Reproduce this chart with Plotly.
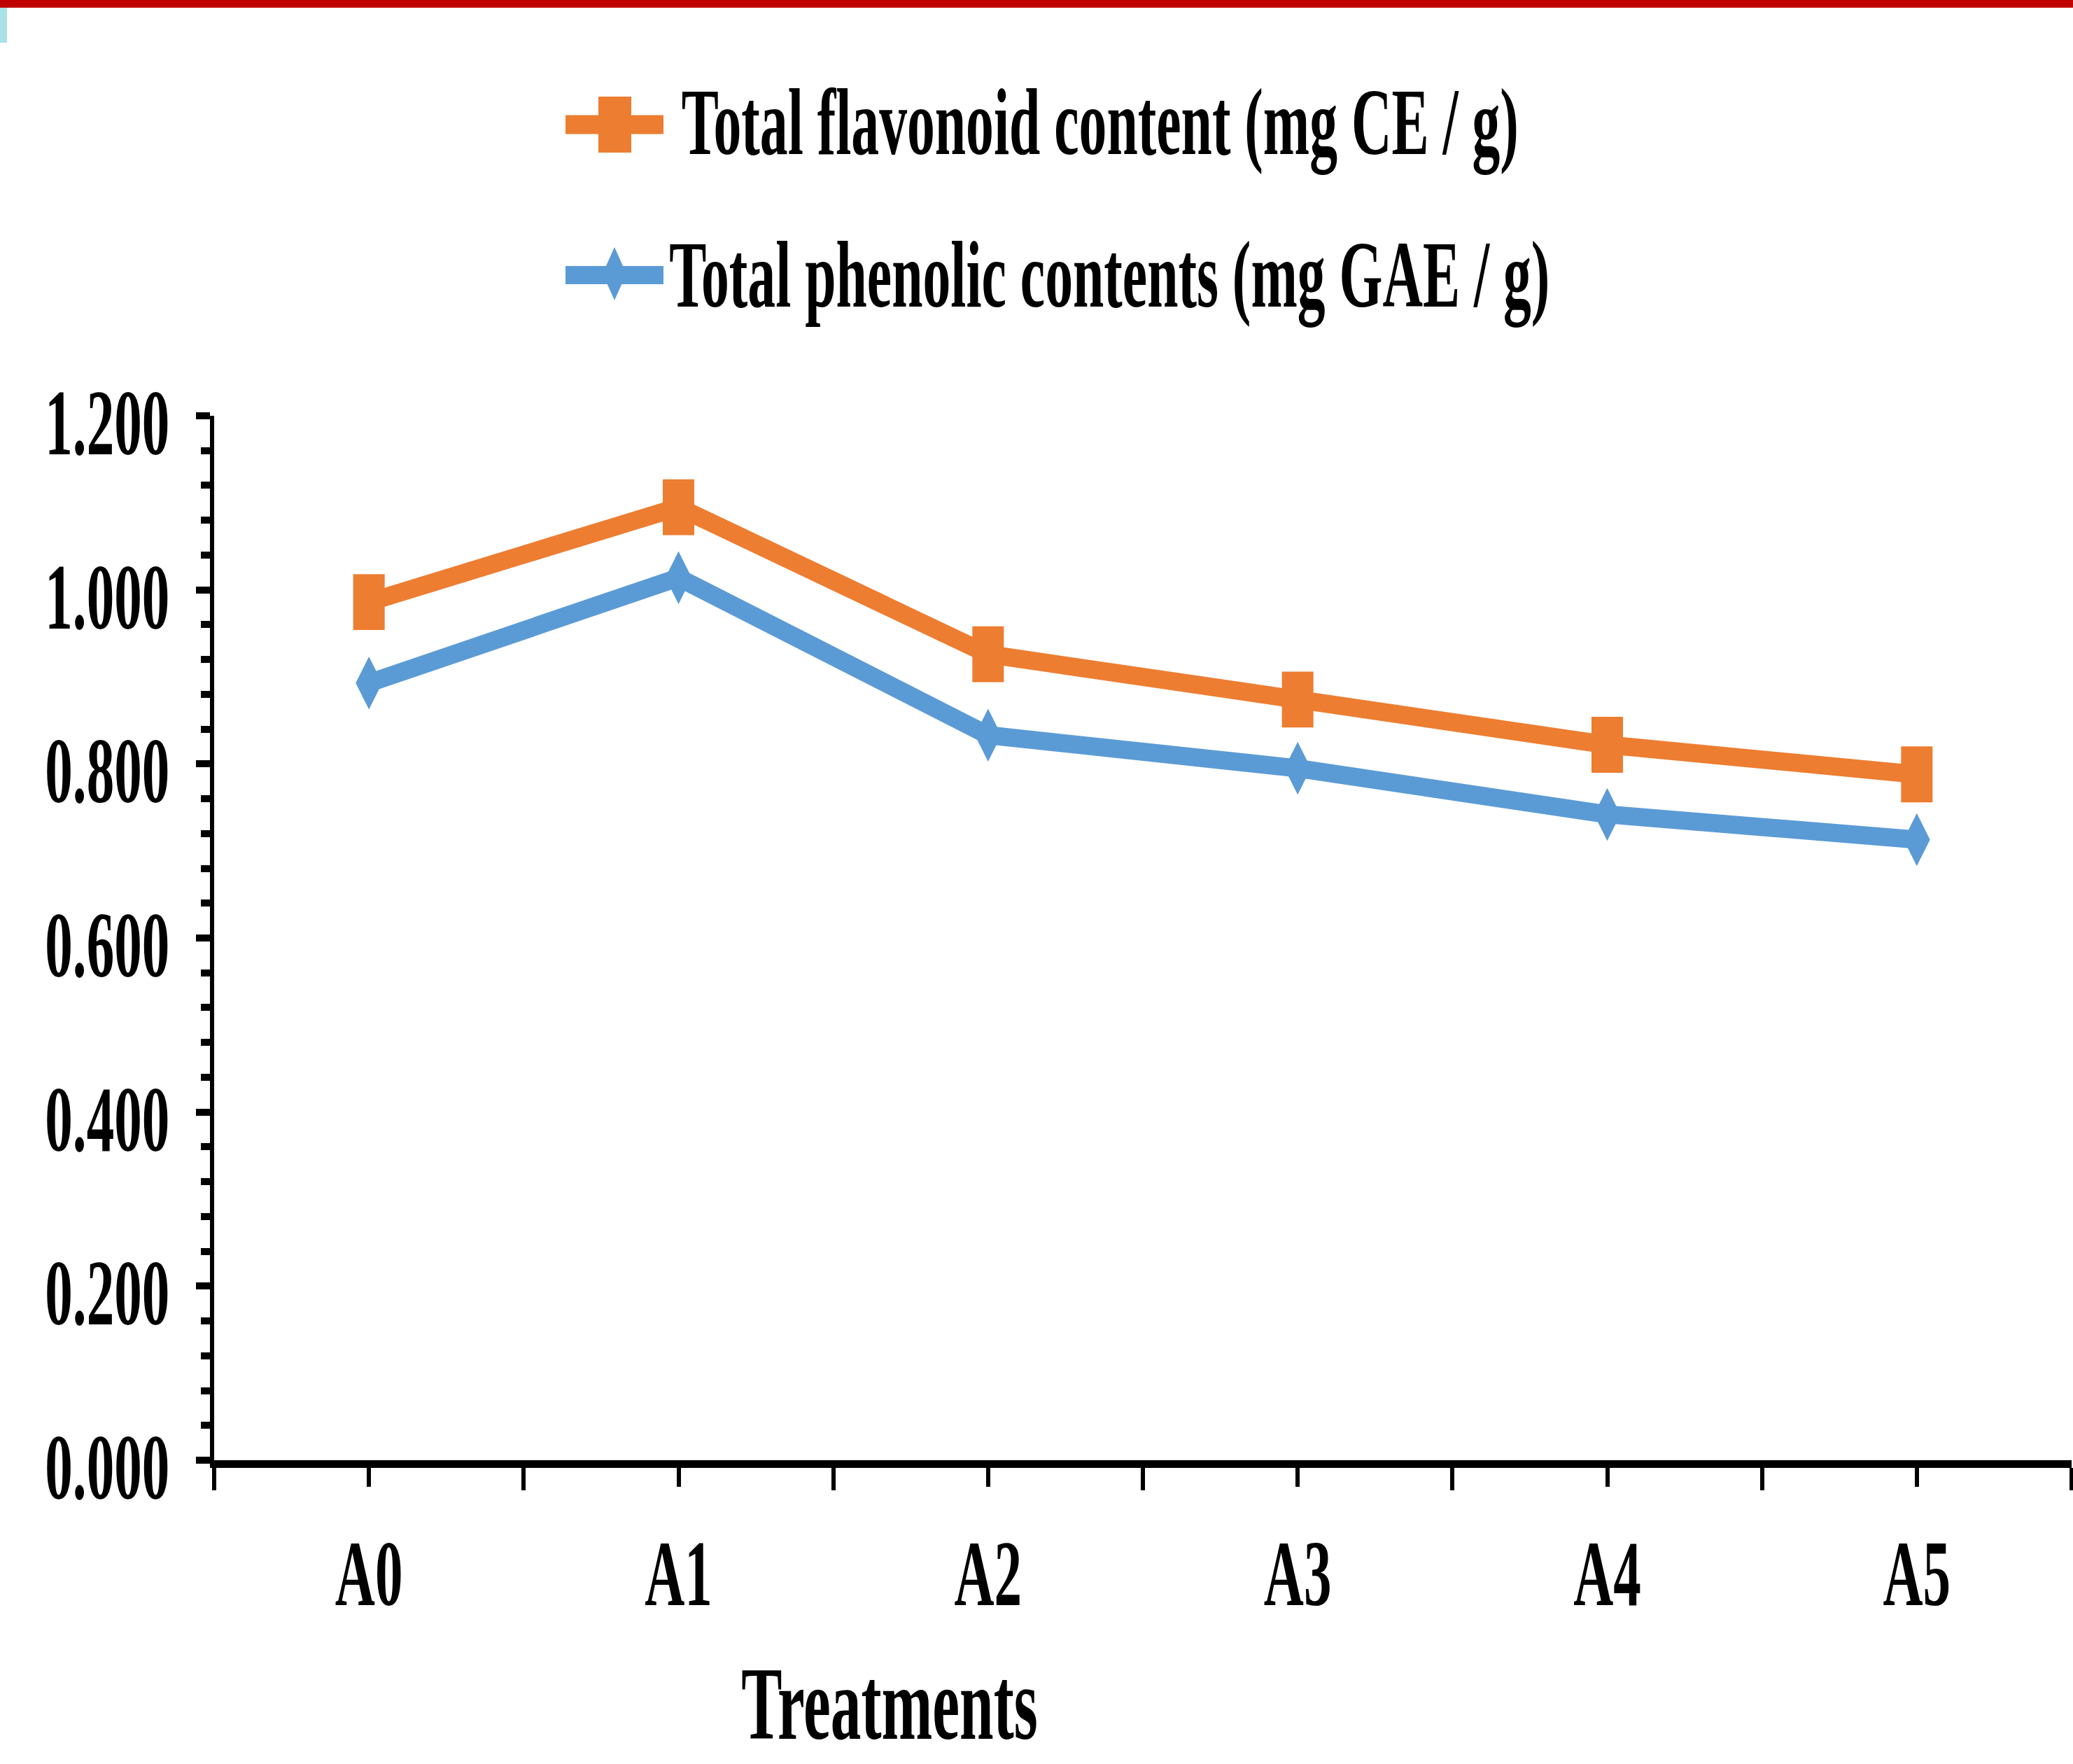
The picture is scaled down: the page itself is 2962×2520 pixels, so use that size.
import plotly.graph_objects as go

W, H = 2962, 2520

categories = ["A0", "A1", "A2", "A3", "A4", "A5"]
flavonoid = [0.986, 1.095, 0.926, 0.874, 0.822, 0.788]
phenolic = [0.893, 1.014, 0.833, 0.795, 0.742, 0.713]
y_ticks = [0.0, 0.2, 0.4, 0.6, 0.8, 1.0, 1.2]
series_names = ["Total flavonoid content (mg CE / g)", "Total phenolic contents (mg GAE / g)"]
x_title = "Treatments"

ORANGE = "#ED7D31"
BLUE = "#5B9BD5"
FONT = "Liberation Serif"


def px(x):
    return x / W


def py(y):
    return 1 - y / H


xpos = list(range(len(categories)))

fig = go.Figure()
fig.add_trace(go.Scatter(
    x=xpos, y=phenolic, mode="lines+markers", name=series_names[1],
    line=dict(color=BLUE, width=26),
    marker=dict(symbol="diamond-tall", size=54, color=BLUE, line=dict(width=0)),
    showlegend=False, cliponaxis=False))
fig.add_trace(go.Scatter(
    x=xpos, y=flavonoid, mode="lines+markers", name=series_names[0],
    line=dict(color=ORANGE, width=26),
    marker=dict(symbol="line-ns", size=57, color=ORANGE, line=dict(width=45, color=ORANGE)),
    showlegend=False, cliponaxis=False))

axis_font = dict(family=FONT, size=134, color="black", weight="bold")

fig.update_layout(
    width=W, height=H,
    margin=dict(l=0, r=0, t=0, b=0),
    paper_bgcolor="white", plot_bgcolor="white",
    showlegend=False,
    xaxis=dict(
        domain=[px(306), px(2960)], range=[-0.5, 5.5],
        tickmode="array", tickvals=xpos, ticktext=categories,
        showline=True, linecolor="black", linewidth=11,
        ticks="outside", ticklen=27, tickwidth=6, tickcolor="black",
        minor=dict(tickmode="linear", tick0=-0.5, dtick=1, ticks="outside",
                   ticklen=32, tickwidth=6, tickcolor="black", showgrid=False),
        showgrid=False, zeroline=False, tickfont=axis_font, automargin=False,
        ticklabelstandoff=8,
    ),
    yaxis=dict(
        domain=[py(2086), py(594)], range=[0, 1.2],
        tickmode="array", tickvals=y_ticks, tickformat=".3f",
        showline=True, linecolor="black", linewidth=6,
        ticks="outside", ticklen=20, tickwidth=10, tickcolor="black",
        minor=dict(tickmode="linear", tick0=0, dtick=0.04, ticks="outside",
                   ticklen=13, tickwidth=10, tickcolor="black", showgrid=False),
        showgrid=False, zeroline=False, tickfont=axis_font, automargin=False,
        ticklabelstandoff=11, ticklabelshift=8,
    ),
)

# decorative top bar and corner block
fig.add_shape(type="rect", xref="paper", yref="paper", x0=0, x1=1, y0=py(11), y1=1,
              fillcolor="#C00000", line=dict(width=0), layer="above")
fig.add_shape(type="rect", xref="paper", yref="paper", x0=0, x1=px(10), y0=py(61), y1=py(11),
              fillcolor="#A9E1E5", line=dict(width=0), layer="above")

# custom legend glyphs
fig.add_shape(type="line", xref="paper", yref="paper", x0=px(808), x1=px(948), y0=py(178), y1=py(178),
              line=dict(color=ORANGE, width=27))
fig.add_shape(type="rect", xref="paper", yref="paper", x0=px(855), x1=px(902), y0=py(218), y1=py(138),
              fillcolor=ORANGE, line=dict(width=0))
fig.add_shape(type="line", xref="paper", yref="paper", x0=px(808), x1=px(948), y0=py(393), y1=py(393),
              line=dict(color=BLUE, width=26))
fig.add_shape(type="path", xref="paper", yref="paper",
              path=f"M {px(878)},{py(353)} L {px(895)},{py(391)} L {px(878)},{py(429)} L {px(861)},{py(391)} Z",
              fillcolor=BLUE, line=dict(width=0))

legend_font = dict(family=FONT, size=135, color="black", weight="bold")
fig.add_annotation(x=px(1572), y=py(175), xref="paper", yref="paper", text=series_names[0],
                   showarrow=False, xanchor="center", yanchor="middle", font=legend_font)
fig.add_annotation(x=px(1585), y=py(393), xref="paper", yref="paper", text=series_names[1],
                   showarrow=False, xanchor="center", yanchor="middle", font=legend_font)
fig.add_annotation(x=px(1271), y=py(2434), xref="paper", yref="paper", text=x_title,
                   showarrow=False, xanchor="center", yanchor="middle",
                   font=dict(family=FONT, size=148, color="black", weight="bold"))

# the reference typeface is horizontally condensed; squeeze every text about its anchor
post = """
var gd = document.getElementById('{plot_id}');
gd.querySelectorAll('text').forEach(function(t){
  var x = parseFloat(t.getAttribute('x')) || 0;
  var y = parseFloat(t.getAttribute('y')) || 0;
  var tr = t.getAttribute('transform') || '';
  t.setAttribute('transform', tr + ' translate(' + x + ',' + y + ') scale(0.59,1) translate(' + (-x) + ',' + (-y) + ')');
});
"""

fig.write_html("out.html", post_script=post)
